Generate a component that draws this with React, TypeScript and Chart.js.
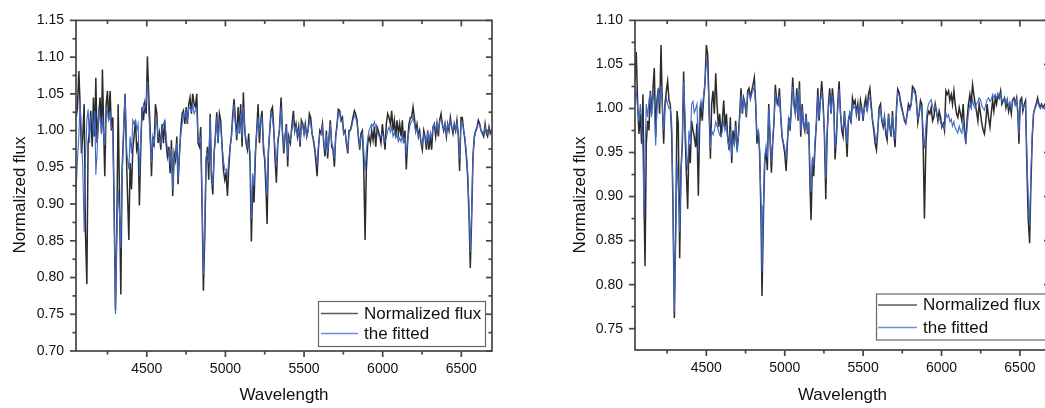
import React, { useEffect, useRef } from "react";
import { Chart, registerables } from "chart.js";

Chart.register(...registerables);

// ---------------- data ----------------
const seriesNames = ["Normalized flux", "the fitted"];
const xTitle = "Wavelength";
const yTitle = "Normalized flux";

const xMajorTicks = [4500, 5000, 5500, 6000, 6500];
const xMinorTicks = [4250, 4750, 5250, 5750, 6250];
const leftYMajorTicks = [0.7, 0.75, 0.8, 0.85, 0.9, 0.95, 1.0, 1.05, 1.1, 1.15];
const leftYMinorTicks = [0.725, 0.775, 0.825, 0.875, 0.925, 0.975, 1.025, 1.075, 1.125];
const rightYMajorTicks = [0.75, 0.8, 0.85, 0.9, 0.95, 1.0, 1.05, 1.1];
const rightYMinorTicks = [0.775, 0.825, 0.875, 0.925, 0.975, 1.025, 1.075];

const leftWave = [
  4051, 4059, 4068, 4076, 4085, 4093, 4102, 4110, 4119, 4127,
  4136, 4144, 4153, 4161, 4170, 4176, 4184, 4195, 4203, 4212,
  4218, 4227, 4233, 4242, 4250, 4258, 4267, 4275, 4284, 4292,
  4301, 4309, 4318, 4326, 4335, 4343, 4352, 4362, 4373, 4386,
  4394, 4403, 4411, 4419, 4428, 4436, 4445, 4453, 4462, 4470,
  4479, 4487, 4496, 4504, 4513, 4521, 4530, 4538, 4547, 4555,
  4564, 4572, 4581, 4589, 4597, 4606, 4614, 4623, 4631, 4640,
  4648, 4657, 4665, 4674, 4682, 4691, 4699, 4708, 4716, 4725,
  4733, 4742, 4750, 4758, 4767, 4775, 4784, 4792, 4801, 4809,
  4818, 4826, 4835, 4843, 4852, 4860, 4869, 4877, 4886, 4894,
  4903, 4911, 4920, 4928, 4936, 4945, 4953, 4962, 4970, 4979,
  4987, 4996, 5004, 5013, 5021, 5030, 5038, 5047, 5055, 5064,
  5072, 5081, 5089, 5097, 5106, 5114, 5123, 5131, 5140, 5148,
  5157, 5165, 5174, 5182, 5191, 5199, 5208, 5216, 5225, 5233,
  5242, 5250, 5258, 5265, 5273, 5282, 5290, 5299, 5307, 5316,
  5324, 5333, 5343, 5354, 5362, 5371, 5379, 5388, 5396, 5403,
  5413, 5422, 5432, 5441, 5449, 5458, 5466, 5475, 5483, 5492,
  5500, 5508, 5517, 5525, 5534, 5542, 5551, 5559, 5568, 5576,
  5583, 5591, 5600, 5608, 5617, 5625, 5633, 5642, 5650, 5659,
  5667, 5676, 5684, 5693, 5701, 5710, 5718, 5727, 5735, 5744,
  5752, 5761, 5769, 5778, 5786, 5794, 5803, 5811, 5820, 5828,
  5837, 5845, 5854, 5862, 5871, 5879, 5888, 5896, 5905, 5913,
  5922, 5930, 5939, 5947, 5956, 5964, 5972, 5981, 5989, 5998,
  6006, 6015, 6023, 6032, 6040, 6049, 6057, 6066, 6074, 6083,
  6091, 6100, 6108, 6117, 6125, 6133, 6142, 6150, 6159, 6167,
  6176, 6184, 6193, 6201, 6210, 6218, 6227, 6235, 6244, 6252,
  6261, 6269, 6278, 6286, 6294, 6303, 6311, 6320, 6328, 6337,
  6345, 6354, 6362, 6371, 6379, 6388, 6396, 6405, 6413, 6422,
  6430, 6439, 6447, 6455, 6464, 6472, 6481, 6489, 6498, 6506,
  6515, 6523, 6532, 6540, 6549, 6557, 6566, 6574, 6583, 6591,
  6600, 6608, 6617, 6625, 6634, 6642, 6651, 6659, 6667, 6676,
  6684, 6693,
];

const leftObserved = [
  1.018, 1.030, 1.081, 1.036, 0.969, 0.992, 1.036, 0.862, 0.791, 0.983,
  1.000, 1.027, 0.978, 1.045, 0.992, 1.072, 0.983, 1.023, 1.045, 0.996,
  1.083, 0.992, 0.938, 1.036, 1.054, 1.014, 1.054, 1.000, 1.018, 0.902,
  0.755, 0.858, 1.036, 0.920, 0.777, 0.947, 0.992, 1.050, 0.947, 0.851,
  0.956, 0.920, 0.974, 0.992, 1.014, 0.974, 0.983, 0.898, 0.978, 1.032,
  1.014, 1.036, 1.023, 1.101, 1.045, 1.005, 0.938, 0.992, 0.978, 1.036,
  1.023, 0.983, 0.996, 0.974, 1.009, 0.983, 1.014, 0.983, 0.965, 0.978,
  0.942, 0.987, 0.911, 0.969, 0.960, 0.992, 0.927, 0.969, 1.000, 1.023,
  1.027, 1.009, 1.032, 1.009, 1.036, 1.045, 1.023, 1.050, 1.036, 1.032,
  1.050, 0.983, 0.978, 1.005, 0.893, 0.782, 0.858, 0.956, 0.978, 0.933,
  1.023, 0.938, 0.913, 0.969, 0.992, 1.025, 0.983, 1.023, 1.014, 0.978,
  0.947, 0.933, 0.942, 0.911, 0.947, 0.978, 0.992, 1.023, 1.043, 1.014,
  0.987, 1.032, 0.996, 1.036, 0.978, 1.052, 1.000, 0.983, 0.974, 0.996,
  0.956, 0.849, 0.929, 0.902, 0.969, 1.000, 1.036, 0.983, 1.014, 1.027,
  0.974, 0.960, 0.920, 0.873, 0.969, 1.000, 1.027, 1.032, 1.005, 0.960,
  0.929, 0.983, 1.000, 1.045, 1.000, 0.969, 0.992, 1.009, 0.951, 0.992,
  0.983, 1.005, 1.027, 1.000, 1.009, 0.992, 1.005, 0.978, 1.014, 1.009,
  0.996, 1.009, 0.992, 1.000, 1.023, 1.018, 0.996, 0.987, 0.974, 0.956,
  0.938, 0.974, 1.000, 0.996, 1.009, 0.983, 0.965, 1.000, 0.962, 0.992,
  1.014, 0.978, 0.974, 0.951, 0.992, 1.009, 1.029, 1.027, 1.014, 1.018,
  0.996, 1.000, 0.983, 0.969, 1.000, 1.000, 1.009, 1.018, 1.027, 1.023,
  1.014, 0.992, 0.974, 0.996, 1.000, 0.956, 0.851, 0.947, 0.983, 0.992,
  0.983, 1.000, 0.987, 1.005, 0.978, 1.005, 1.000, 0.992, 0.983, 1.009,
  0.992, 0.974, 1.009, 1.023, 1.018, 1.009, 1.027, 1.000, 1.014, 0.992,
  1.014, 0.996, 1.009, 0.992, 1.014, 0.983, 1.000, 0.947, 0.987, 1.009,
  1.018, 1.018, 1.032, 1.018, 1.000, 1.009, 0.992, 1.000, 0.983, 0.974,
  1.000, 0.992, 0.974, 1.000, 0.974, 0.992, 0.974, 1.005, 1.009, 0.992,
  1.009, 0.992, 1.014, 1.023, 1.009, 1.000, 1.009, 0.992, 1.009, 1.000,
  1.018, 1.005, 0.996, 1.009, 1.000, 1.014, 0.992, 0.945, 1.018, 1.018,
  1.000, 0.987, 0.965, 0.938, 0.884, 0.813, 0.884, 0.965, 0.992, 1.000,
  1.005, 1.014, 1.009, 1.000, 0.996, 0.992, 1.009, 0.996, 0.992, 1.005,
  0.996, 1.000,
];

const leftFitted = [
  0.918, 0.960, 0.992, 1.039, 0.990, 0.950, 0.862, 0.960, 1.014, 1.029,
  0.983, 1.018, 1.023, 0.992, 1.027, 0.940, 0.970, 1.032, 1.014, 1.000,
  1.018, 0.992, 0.980, 1.030, 1.027, 1.014, 1.023, 1.005, 1.000, 0.902,
  0.750, 0.858, 0.920, 0.890, 0.840, 0.930, 1.000, 1.050, 0.969, 0.947,
  0.992, 0.969, 1.014, 1.009, 1.014, 1.000, 1.009, 0.938, 0.992, 1.023,
  1.036, 1.030, 1.040, 1.067, 1.023, 0.990, 0.956, 0.992, 0.980, 1.005,
  1.014, 0.992, 0.990, 0.983, 1.000, 1.009, 1.014, 0.992, 0.975, 0.969,
  0.956, 0.975, 0.920, 0.960, 0.965, 0.983, 0.933, 0.969, 0.995, 1.009,
  1.023, 1.018, 1.027, 1.014, 1.032, 1.030, 1.027, 1.036, 1.023, 1.027,
  1.030, 0.990, 0.983, 0.990, 0.902, 0.804, 0.880, 0.965, 0.969, 0.956,
  1.018, 0.947, 0.925, 0.965, 0.990, 1.018, 0.983, 1.014, 1.009, 0.978,
  0.960, 0.947, 0.947, 0.938, 0.960, 0.978, 0.990, 1.014, 1.036, 1.005,
  0.995, 1.009, 1.000, 1.023, 0.990, 1.032, 1.005, 0.987, 0.978, 0.983,
  0.969, 0.880, 0.942, 0.925, 0.974, 1.000, 1.018, 0.996, 1.014, 1.018,
  0.983, 0.965, 0.940, 0.910, 0.974, 1.000, 1.023, 1.018, 1.000, 0.974,
  0.951, 0.987, 1.000, 1.032, 1.000, 0.978, 0.992, 1.005, 0.965, 0.990,
  0.987, 1.000, 1.014, 1.000, 1.005, 0.995, 1.000, 0.983, 1.009, 1.005,
  0.996, 1.005, 0.992, 0.998, 1.014, 1.010, 0.996, 0.990, 0.978, 0.965,
  0.955, 0.978, 0.996, 0.996, 1.005, 0.987, 0.972, 0.995, 0.970, 0.990,
  1.009, 0.983, 0.978, 0.962, 0.990, 1.005, 1.025, 1.023, 1.012, 1.014,
  0.996, 0.998, 0.985, 0.975, 0.998, 1.000, 1.005, 1.014, 1.020, 1.018,
  1.010, 0.995, 0.980, 0.992, 0.996, 0.975, 0.945, 0.972, 0.990, 1.000,
  1.005, 1.009, 1.005, 1.012, 1.005, 0.998, 0.995, 0.990, 0.992, 0.996,
  0.990, 0.985, 0.990, 1.000, 1.005, 0.998, 1.005, 0.992, 0.998, 0.990,
  0.995, 0.985, 0.990, 0.985, 0.995, 0.985, 0.990, 0.968, 0.985, 1.000,
  1.009, 1.012, 1.018, 1.010, 0.998, 1.003, 0.992, 0.996, 0.985, 0.980,
  0.995, 0.990, 0.983, 0.996, 0.985, 0.996, 0.990, 1.005, 1.009, 1.000,
  1.009, 1.000, 1.012, 1.016, 1.009, 1.002, 1.009, 0.996, 1.009, 1.003,
  1.014, 1.005, 1.000, 1.009, 1.002, 1.010, 0.996, 0.962, 1.010, 1.012,
  1.000, 0.990, 0.970, 0.945, 0.895, 0.835, 0.895, 0.965, 0.990, 0.998,
  1.003, 1.010, 1.008, 1.000, 0.998, 0.995, 1.005, 0.998, 0.995, 1.003,
  0.998, 1.000,
];

const rightWave = [
  4045, 4053, 4062, 4070, 4079, 4087, 4096, 4102, 4109, 4117,
  4126, 4134, 4143, 4151, 4160, 4168, 4177, 4185, 4194, 4202,
  4211, 4219, 4228, 4236, 4245, 4253, 4262, 4270, 4279, 4287,
  4296, 4304, 4313, 4321, 4330, 4338, 4347, 4355, 4364, 4372,
  4381, 4389, 4398, 4406, 4415, 4423, 4432, 4440, 4449, 4457,
  4466, 4474, 4483, 4491, 4500, 4509, 4517, 4526, 4534, 4543,
  4551, 4560, 4568, 4577, 4585, 4594, 4602, 4611, 4619, 4628,
  4636, 4645, 4653, 4662, 4670, 4679, 4687, 4696, 4704, 4713,
  4721, 4730, 4738, 4747, 4755, 4764, 4772, 4781, 4789, 4798,
  4806, 4815, 4823, 4832, 4840, 4849, 4855, 4864, 4872, 4881,
  4889, 4898, 4906, 4915, 4923, 4932, 4940, 4949, 4957, 4966,
  4974, 4983, 4991, 5000, 5009, 5017, 5026, 5034, 5043, 5051,
  5060, 5068, 5077, 5085, 5094, 5102, 5111, 5119, 5128, 5136,
  5145, 5153, 5162, 5168, 5177, 5185, 5194, 5202, 5211, 5219,
  5228, 5236, 5245, 5253, 5262, 5270, 5279, 5287, 5296, 5304,
  5313, 5321, 5330, 5338, 5347, 5355, 5364, 5372, 5381, 5389,
  5398, 5406, 5415, 5423, 5432, 5440, 5449, 5457, 5466, 5474,
  5483, 5491, 5500, 5509, 5517, 5526, 5534, 5543, 5551, 5560,
  5568, 5577, 5585, 5594, 5602, 5611, 5619, 5628, 5636, 5645,
  5653, 5662, 5670, 5679, 5687, 5696, 5704, 5713, 5721, 5730,
  5738, 5747, 5755, 5764, 5772, 5781, 5789, 5798, 5806, 5815,
  5823, 5832, 5840, 5849, 5857, 5866, 5874, 5883, 5891, 5900,
  5909, 5917, 5926, 5934, 5943, 5951, 5960, 5968, 5977, 5985,
  5994, 6002, 6011, 6019, 6028, 6036, 6045, 6053, 6062, 6070,
  6079, 6087, 6096, 6104, 6113, 6121, 6130, 6138, 6147, 6155,
  6164, 6172, 6181, 6189, 6198, 6206, 6215, 6223, 6232, 6240,
  6249, 6257, 6266, 6274, 6283, 6291, 6300, 6309, 6317, 6326,
  6334, 6343, 6351, 6360, 6368, 6377, 6385, 6394, 6402, 6411,
  6419, 6428, 6436, 6445, 6453, 6462, 6470, 6479, 6487, 6494,
  6502, 6511, 6519, 6528, 6536, 6545, 6553, 6562, 6570, 6579,
  6587, 6596, 6604, 6613, 6621, 6630, 6638, 6647, 6660, 6670,
  6680, 6690,
];

const rightObserved = [
  1.031, 1.064, 1.005, 0.971, 0.994, 0.960, 1.016, 0.900, 0.821, 0.960,
  0.986, 0.975, 1.020, 0.994, 1.023, 1.046, 0.968, 1.009, 1.023, 0.994,
  1.072, 1.005, 0.960, 1.005, 1.020, 1.031, 1.009, 1.005, 0.971, 0.893,
  0.762, 0.856, 0.997, 0.983, 0.830, 0.930, 0.960, 1.042, 0.975, 0.930,
  0.886, 0.960, 0.938, 0.986, 0.975, 0.968, 0.956, 0.983, 0.901, 0.979,
  1.005, 0.986, 1.012, 1.027, 1.072, 1.061, 1.005, 0.943, 1.005, 1.020,
  0.994, 1.040, 1.005, 0.979, 0.994, 0.968, 0.986, 1.009, 0.979, 0.994,
  0.968, 0.953, 0.990, 0.938, 0.975, 0.960, 0.986, 0.953, 0.968, 0.994,
  1.023, 0.994, 1.012, 1.005, 0.990, 1.020, 1.023, 1.012, 1.020, 1.027,
  1.035, 1.005, 0.960, 0.975, 0.949, 0.875, 0.787, 0.875, 0.938, 0.953,
  0.930, 1.005, 0.968, 0.927, 0.960, 0.986, 1.027, 1.009, 1.005, 1.023,
  0.994, 0.968, 0.960, 0.949, 0.929, 0.960, 0.990, 0.975, 1.005, 1.035,
  1.005, 0.994, 1.023, 0.986, 1.031, 0.968, 1.005, 0.983, 0.975, 0.994,
  0.971, 0.983, 0.908, 0.873, 0.942, 0.923, 0.960, 0.983, 1.023, 0.986,
  1.012, 1.031, 1.005, 0.971, 0.897, 0.968, 1.005, 1.023, 0.994, 1.023,
  1.005, 0.942, 0.968, 1.005, 1.031, 0.997, 0.975, 0.968, 0.997, 0.975,
  0.945, 0.986, 0.994, 0.983, 1.012, 1.005, 1.009, 0.994, 1.005, 0.986,
  1.009, 1.001, 0.986, 1.005, 1.012, 0.997, 1.016, 1.023, 1.005, 0.986,
  0.975, 0.960, 0.953, 0.975, 1.001, 1.005, 0.986, 0.979, 0.990, 0.971,
  0.964, 0.994, 0.979, 0.968, 0.997, 0.971, 0.956, 1.001, 1.022, 1.018,
  1.009, 1.001, 0.994, 0.986, 0.983, 0.994, 1.005, 1.001, 1.005, 1.025,
  1.023, 1.020, 1.009, 0.984, 0.994, 1.009, 1.005, 0.960, 0.875, 0.956,
  0.990, 0.997, 0.994, 1.001, 0.986, 0.990, 1.005, 0.997, 0.986, 0.997,
  0.990, 0.979, 0.983, 0.975, 1.020, 1.016, 1.020, 1.009, 1.016, 1.005,
  1.020, 1.005, 0.994, 0.990, 1.001, 0.994, 0.986, 1.005, 0.975, 0.960,
  0.990, 1.005, 1.016, 1.005, 1.027, 1.016, 1.005, 0.997, 0.986, 1.005,
  0.994, 0.983, 0.975, 0.971, 0.986, 1.005, 0.990, 0.979, 0.994, 1.009,
  0.997, 1.012, 1.005, 1.016, 1.012, 1.020, 1.005, 1.009, 1.012, 1.001,
  1.009, 0.997, 1.005, 0.994, 1.009, 1.012, 1.005, 1.012, 0.994, 0.960,
  1.009, 1.012, 0.997, 1.005, 1.009, 0.930, 0.875, 0.847, 0.912, 0.968,
  0.994, 1.001, 1.005, 1.012, 1.005, 1.001, 1.005, 1.001, 1.005, 1.000,
  1.003, 1.000,
];

const rightFitted = [
  1.010, 1.020, 1.000, 0.985, 1.005, 0.985, 0.950, 0.876, 0.950, 1.005,
  0.990, 1.010, 1.016, 0.990, 1.020, 1.005, 0.958, 1.000, 1.020, 1.009,
  1.025, 1.005, 0.975, 1.000, 1.012, 1.005, 1.000, 1.000, 0.985, 0.895,
  0.770, 0.850, 0.940, 0.910, 0.860, 0.920, 0.965, 1.030, 0.990, 0.950,
  0.930, 0.975, 0.960, 1.005, 1.008, 0.995, 1.000, 1.005, 0.950, 1.000,
  1.009, 1.000, 1.015, 1.030, 1.053, 1.045, 1.000, 0.955, 0.975, 0.970,
  0.975, 0.985, 0.980, 0.975, 0.970, 0.968, 0.975, 0.985, 0.975, 0.980,
  0.965, 0.955, 0.975, 0.945, 0.965, 0.958, 0.980, 0.950, 0.965, 0.990,
  1.015, 1.000, 1.010, 1.003, 0.995, 1.016, 1.018, 1.010, 1.016, 1.020,
  1.025, 1.003, 0.970, 0.975, 0.955, 0.890, 0.815, 0.890, 0.945, 0.958,
  0.945, 1.000, 0.970, 0.940, 0.965, 0.985, 1.018, 1.005, 1.003, 1.015,
  0.990, 0.970, 0.962, 0.955, 0.945, 0.965, 0.988, 0.978, 1.000, 1.025,
  1.002, 0.992, 1.015, 0.988, 1.022, 0.975, 1.000, 0.985, 0.978, 0.992,
  0.975, 0.985, 0.925, 0.905, 0.945, 0.935, 0.965, 0.985, 1.015, 0.990,
  1.008, 1.020, 1.000, 0.975, 0.920, 0.970, 1.000, 1.015, 0.995, 1.015,
  1.000, 0.955, 0.972, 1.000, 1.022, 0.995, 0.980, 0.975, 0.995, 0.980,
  0.960, 0.988, 0.995, 0.985, 1.005, 1.000, 1.003, 0.995, 1.000, 0.990,
  1.003, 1.000, 0.990, 1.000, 1.005, 0.997, 1.010, 1.012, 1.000, 0.988,
  0.980, 0.968, 0.962, 0.978, 0.995, 1.000, 0.988, 0.982, 0.990, 0.975,
  0.970, 0.990, 0.980, 0.972, 0.992, 0.975, 0.965, 0.998, 1.018, 1.015,
  1.005, 0.998, 0.993, 0.988, 0.985, 0.993, 1.000, 0.998, 1.003, 1.018,
  1.020, 1.016, 1.005, 0.988, 0.992, 1.003, 1.000, 0.975, 0.955, 0.980,
  0.998, 1.005, 1.008, 1.010, 1.003, 0.998, 1.002, 0.995, 0.988, 0.990,
  0.985, 0.980, 0.982, 0.978, 0.995, 0.990, 0.993, 0.985, 0.988, 0.980,
  0.985, 0.978, 0.975, 0.972, 0.980, 0.975, 0.972, 0.985, 0.970, 0.962,
  0.980, 0.995, 1.005, 1.000, 1.010, 1.003, 1.000, 1.005, 1.008, 1.012,
  1.010, 1.003, 1.000, 0.998, 1.005, 1.010, 1.012, 1.008, 1.010, 1.016,
  1.012, 1.016, 1.012, 1.016, 1.013, 1.016, 1.008, 1.010, 1.012, 1.005,
  1.010, 1.002, 1.006, 1.000, 1.008, 1.010, 1.005, 1.010, 0.998, 0.970,
  1.003, 1.008, 1.000, 1.003, 1.005, 0.945, 0.900, 0.867, 0.925, 0.972,
  0.995, 1.000, 1.003, 1.008, 1.003, 1.000, 1.003, 1.000, 1.003, 1.000,
  1.002, 1.000,
];

// ---------------- styling ----------------
const FONT = "'Liberation Sans', Arial, Helvetica, sans-serif";
const OBS_COLOR = "#2b2b2b";
const FIT_COLOR = "#4168c8";
const OBS_LEGEND_COLOR = "#5a5a5a";
const FIT_LEGEND_COLOR = "#6d8ddb";
const FRAME_COLOR = "#454545";

type PanelCfg = {
  left: number;
  width: number;
  height: number;
  yAxisWidth: number;
  padRight: number;
  padTop: number;
  xAxisHeight: number;
  xMin: number;
  xMax: number;
  yMin: number;
  yMax: number;
  wave: number[];
  obs: number[];
  fit: number[];
  yMajor: number[];
  yMinor: number[];
  legend: { x: number; y: number; w: number; h: number; lx0: number; lx1: number; r1: number; r2: number; tx: number };
  yTitleX: number;
  yTitleY: number;
  xTitleY: number;
};

const leftCfg: PanelCfg = {
  left: 0,
  width: 520,
  height: 408,
  yAxisWidth: 76,
  padRight: 28,
  padTop: 15,
  xAxisHeight: 57,
  xMin: 4050,
  xMax: 6695,
  yMin: 0.7,
  yMax: 1.15,
  wave: leftWave,
  obs: leftObserved,
  fit: leftFitted,
  yMajor: leftYMajorTicks,
  yMinor: leftYMinorTicks,
  legend: { x: 318, y: 301, w: 167, h: 45, lx0: 321, lx1: 358, r1: 313.5, r2: 333.5, tx: 364 },
  yTitleX: 25,
  yTitleY: 195,
  xTitleY: 400,
};

const rightCfg: PanelCfg = {
  left: 540,
  width: 520,
  height: 408,
  yAxisWidth: 95,
  padRight: 10,
  padTop: 15,
  xAxisHeight: 58,
  xMin: 4045,
  xMax: 6692,
  yMin: 0.7258,
  yMax: 1.1,
  wave: rightWave,
  obs: rightObserved,
  fit: rightFitted,
  yMajor: rightYMajorTicks,
  yMinor: rightYMinorTicks,
  legend: { x: 336, y: 293.5, w: 171, h: 46, lx0: 338, lx1: 377, r1: 305, r2: 327.5, tx: 383 },
  yTitleX: 45,
  yTitleY: 195,
  xTitleY: 400,
};

const originFrame = {
  id: "originFrame",
  afterDraw(chart: any, _args: any, opts: any) {
    const cfg: PanelCfg = opts.cfg;
    const { ctx, chartArea: a, scales } = chart;
    const xs = scales.x;
    const ys = scales.y;
    ctx.save();
    ctx.strokeStyle = FRAME_COLOR;
    ctx.lineWidth = 1.7;
    ctx.lineCap = "butt";
    ctx.strokeRect(a.left, a.top, a.right - a.left, a.bottom - a.top);
    const seg = (x1: number, y1: number, x2: number, y2: number) => {
      ctx.beginPath();
      ctx.moveTo(x1, y1);
      ctx.lineTo(x2, y2);
      ctx.stroke();
    };
    const MAJ = 6;
    const MIN = 3.5;
    xMajorTicks.forEach((v) => {
      const p = xs.getPixelForValue(v);
      seg(p, a.bottom, p, a.bottom + MAJ);
      seg(p, a.top, p, a.top + MAJ);
    });
    xMinorTicks.forEach((v) => {
      const p = xs.getPixelForValue(v);
      seg(p, a.bottom, p, a.bottom + MIN);
      seg(p, a.top, p, a.top + MIN);
    });
    cfg.yMajor.forEach((v) => {
      const p = ys.getPixelForValue(v);
      seg(a.left - MAJ, p, a.left, p);
      seg(a.right - MAJ, p, a.right, p);
    });
    cfg.yMinor.forEach((v) => {
      const p = ys.getPixelForValue(v);
      seg(a.left - MIN, p, a.left, p);
      seg(a.right - MIN, p, a.right, p);
    });

    // axis titles
    ctx.fillStyle = "#111";
    ctx.font = `17px ${FONT}`;
    ctx.textAlign = "center";
    ctx.textBaseline = "alphabetic";
    ctx.fillText(xTitle, (a.left + a.right) / 2, cfg.xTitleY);
    ctx.save();
    ctx.translate(cfg.yTitleX, cfg.yTitleY);
    ctx.rotate(-Math.PI / 2);
    ctx.fillText(yTitle, 0, 0);
    ctx.restore();

    // legend
    const L = cfg.legend;
    ctx.fillStyle = "#fff";
    ctx.fillRect(L.x, L.y, L.w, L.h);
    ctx.strokeStyle = "#666";
    ctx.lineWidth = 1.2;
    ctx.strokeRect(L.x + 0.5, L.y + 0.5, L.w, L.h);
    ctx.lineWidth = 1.4;
    ctx.strokeStyle = OBS_LEGEND_COLOR;
    seg(L.lx0, L.r1, L.lx1, L.r1);
    ctx.strokeStyle = FIT_LEGEND_COLOR;
    seg(L.lx0, L.r2, L.lx1, L.r2);
    ctx.fillStyle = "#111";
    ctx.font = `17px ${FONT}`;
    ctx.textAlign = "left";
    ctx.textBaseline = "middle";
    ctx.fillText(seriesNames[0], L.tx, L.r1 + 0.5);
    ctx.fillText(seriesNames[1], L.tx, L.r2 + 0.5);
    ctx.restore();
  },
};

function Panel({ cfg }: { cfg: PanelCfg }) {
  const ref = useRef<HTMLCanvasElement>(null);
  useEffect(() => {
    const canvas = ref.current;
    if (!canvas) return;
    const chart = new Chart(canvas, {
      type: "line",
      data: {
        datasets: [
          {
            label: seriesNames[0],
            data: cfg.wave.map((w, i) => ({ x: w, y: cfg.obs[i] })),
            borderColor: OBS_COLOR,
            borderWidth: 1.5,
            pointRadius: 0,
            tension: 0,
            order: 2,
          },
          {
            label: seriesNames[1],
            data: cfg.wave.map((w, i) => ({ x: w, y: cfg.fit[i] })),
            borderColor: FIT_COLOR,
            borderWidth: 1.1,
            pointRadius: 0,
            tension: 0,
            order: 1,
          },
        ],
      },
      options: {
        animation: false,
        responsive: false,
        devicePixelRatio: 1,
        events: [],
        layout: { padding: { left: 0, top: cfg.padTop, right: cfg.padRight, bottom: 0 } },
        plugins: {
          legend: { display: false },
          tooltip: { enabled: false },
          originFrame: { cfg },
        } as any,
        scales: {
          x: {
            type: "linear",
            min: cfg.xMin,
            max: cfg.xMax,
            grid: { display: false, drawTicks: false },
            border: { display: false },
            afterBuildTicks: (s: any) => {
              s.ticks = xMajorTicks.map((v) => ({ value: v }));
            },
            afterFit: (s: any) => {
              s.height = cfg.xAxisHeight;
            },
            ticks: {
              padding: 10,
              maxRotation: 0,
              autoSkip: false,
              color: "#111",
              font: { family: FONT, size: 14 },
              callback: (v: any) => String(v),
            },
          },
          y: {
            type: "linear",
            min: cfg.yMin,
            max: cfg.yMax,
            grid: { display: false, drawTicks: false },
            border: { display: false },
            afterBuildTicks: (s: any) => {
              s.ticks = cfg.yMajor.map((v) => ({ value: v }));
            },
            afterFit: (s: any) => {
              s.width = cfg.yAxisWidth;
            },
            ticks: {
              padding: 12,
              autoSkip: false,
              color: "#111",
              font: { family: FONT, size: 14 },
              callback: (v: any) => Number(v).toFixed(2),
            },
          },
        },
      } as any,
      plugins: [originFrame as any],
    });
    return () => chart.destroy();
  }, [cfg]);
  return (
    <canvas
      ref={ref}
      width={cfg.width}
      height={cfg.height}
      style={{ position: "absolute", left: cfg.left, top: 0, width: cfg.width, height: cfg.height }}
    />
  );
}

export default function App() {
  useEffect(() => {
    document.body.style.margin = "0";
  }, []);
  return (
    <div
      style={{
        position: "fixed",
        left: 0,
        top: 0,
        width: 1045,
        height: 408,
        overflow: "hidden",
        background: "#fff",
      }}
    >
      <Panel cfg={leftCfg} />
      <Panel cfg={rightCfg} />
    </div>
  );
}
